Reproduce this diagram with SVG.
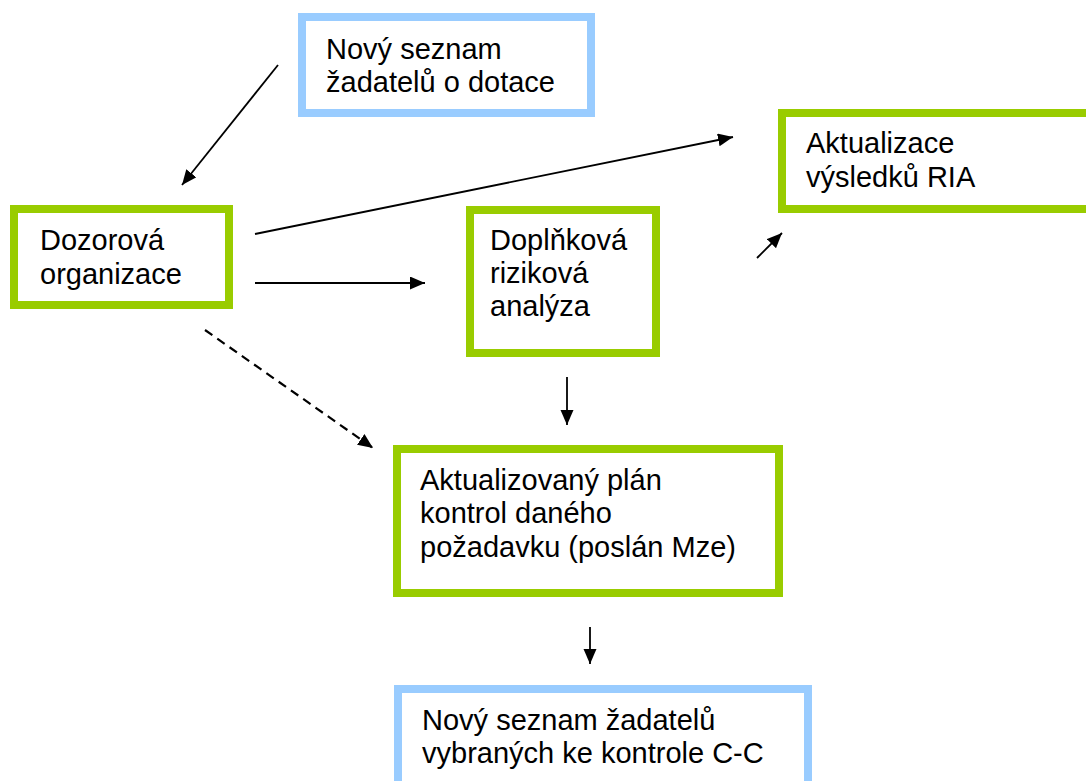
<svg xmlns="http://www.w3.org/2000/svg" width="1086" height="781" viewBox="0 0 1086 781">
  <style>
    .green { fill: #ffffff; stroke: #99cc00; stroke-width: 8; }
    .blue { fill: #ffffff; stroke: #99ccff; stroke-width: 8; }
    .label { font-family: "Liberation Sans", Arial, sans-serif; font-size: 29px; fill: #000000; }
    .conn { stroke: #000000; stroke-width: 1.8; fill: none; marker-end: url(#arrow); }
    .dashed { stroke-dasharray: 9 6; stroke-width: 2.2; }
  </style>
  <defs>
    <marker id="arrow" markerUnits="userSpaceOnUse" markerWidth="16" markerHeight="14" refX="15" refY="6.5" orient="auto">
      <path d="M0,0 L15,6.5 L0,13 Z" fill="#000000"/>
    </marker>
  </defs>

  <rect width="1086" height="781" fill="#ffffff"/>

  <!-- connectors -->
  <g id="connectors">
    <line class="conn" x1="278" y1="65" x2="182" y2="185"/>
    <line class="conn" x1="255" y1="234" x2="733" y2="137"/>
    <line class="conn" x1="255" y1="283" x2="425" y2="283"/>
    <line class="conn" x1="757" y1="258" x2="782" y2="233"/>
    <line class="conn dashed" x1="205" y1="330" x2="373" y2="448"/>
    <line class="conn" x1="567" y1="377" x2="567" y2="425"/>
    <line class="conn" x1="590" y1="627" x2="590" y2="664"/>
  </g>

  <!-- new list of subsidy applicants -->
  <g id="novy-seznam">
    <rect class="blue" x="302" y="17" width="289" height="96"/>
    <text class="label" x="326" y="59">Nový seznam</text>
    <text class="label" x="326" y="92">žadatelů o dotace</text>
  </g>

  <!-- supervisory organisation -->
  <g id="dozorova-organizace">
    <rect class="green" x="14" y="209" width="215" height="96"/>
    <text class="label" x="40" y="250">Dozorová</text>
    <text class="label" x="40" y="284">organizace</text>
  </g>

  <!-- supplementary risk analysis -->
  <g id="doplnkova-analyza">
    <rect class="green" x="470" y="210" width="186" height="143"/>
    <text class="label" x="490" y="250">Doplňková</text>
    <text class="label" x="490" y="283">riziková</text>
    <text class="label" x="490" y="316">analýza</text>
  </g>

  <!-- RIA results update -->
  <g id="aktualizace-ria">
    <rect class="green" x="782" y="113" width="330" height="96"/>
    <text class="label" x="806" y="153">Aktualizace</text>
    <text class="label" x="806" y="187">výsledků RIA</text>
  </g>

  <!-- updated inspection plan -->
  <g id="aktualizovany-plan">
    <rect class="green" x="397" y="449" width="382" height="144"/>
    <text class="label" x="420" y="490">Aktualizovaný plán</text>
    <text class="label" x="420" y="523">kontrol daného</text>
    <text class="label" x="420" y="557">požadavku (poslán Mze)</text>
  </g>

  <!-- applicants selected for C-C inspection -->
  <g id="vybrani-zadatele">
    <rect class="blue" x="398" y="689" width="410" height="130"/>
    <text class="label" x="422" y="730">Nový seznam žadatelů</text>
    <text class="label" x="422" y="763">vybraných ke kontrole C-C</text>
  </g>
</svg>
